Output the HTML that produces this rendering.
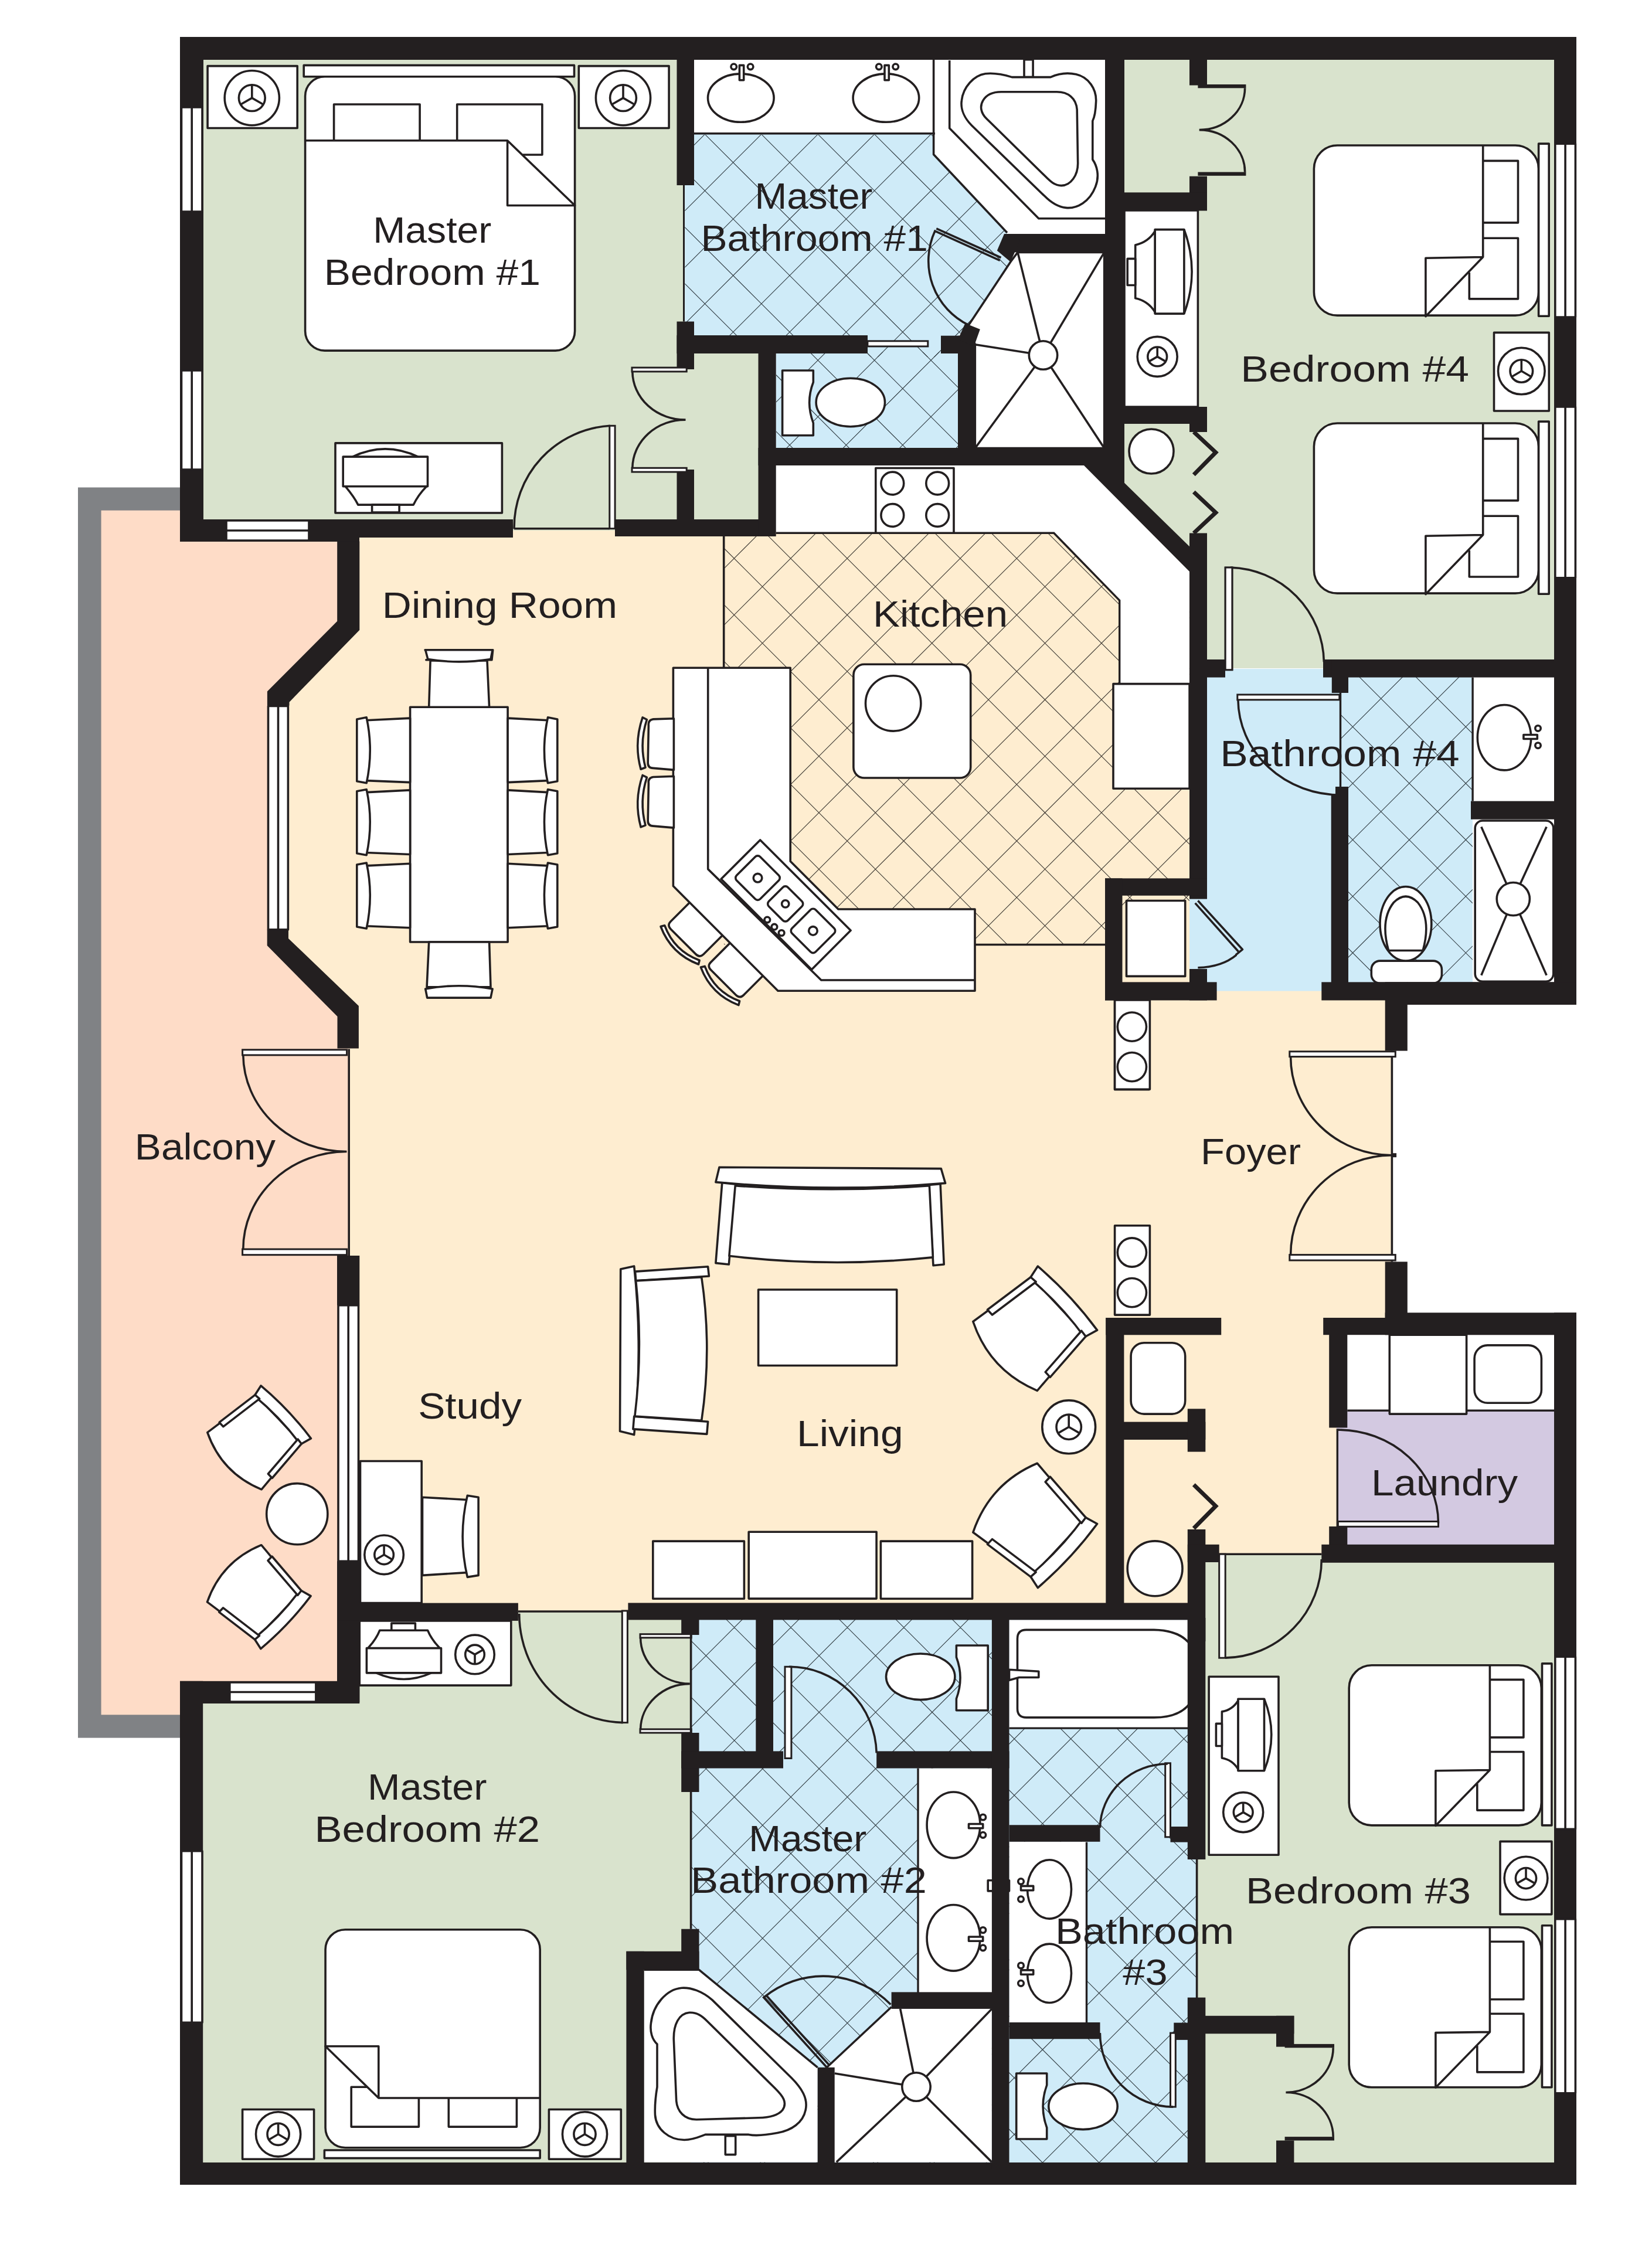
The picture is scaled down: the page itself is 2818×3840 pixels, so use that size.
<!DOCTYPE html>
<html><head><meta charset="utf-8"><title>Floor plan</title><style>
html,body{margin:0;padding:0;background:#fff}
svg{display:block}
.w{fill:#231f20}
.f{fill:#fff;stroke:#231f20;stroke-width:3.6;stroke-linejoin:round}
.l{fill:none;stroke:#231f20;stroke-width:3.6;stroke-linecap:butt;stroke-linejoin:round}
.d{fill:none;stroke:#231f20;stroke-width:3.6}
.dw{fill:#fff;stroke:#231f20;stroke-width:3}
.h{fill:none;stroke:#323d43;stroke-width:1.1}
.hk{fill:none;stroke:#3d3832;stroke-width:1.1}
.g{fill:#d9e3cd}.b{fill:#cfebf8}.c{fill:#feedd0}.p{fill:#fedcc7}.u{fill:#d3c9e1}.gy{fill:#808285}.wh{fill:#fff}
text{font-family:"Liberation Sans",sans-serif;fill:#231f20}
.l2{fill:none;stroke:#231f20;stroke-width:2}
.l1{fill:none;stroke:#231f20;stroke-width:3.4}
.lt{fill:none;stroke:#231f20;stroke-width:7;stroke-linejoin:miter}
</style></head><body>
<svg width="2818" height="3840" viewBox="0 0 2818 3840">
<defs><clipPath id="c1"><polygon points="1168.2,227.7 1592.5,227.7 1592.5,263.4 1718.4,397.1 1700.8,427.4 1723.8,446.8 1652.4,554.5 1634.3,572.7 1634.3,584.8 1605.2,584.8 1605.2,609 1479.9,609 1479.9,584.8 1168.2,584.8"/></clipPath><clipPath id="c2"><polygon points="1323.7,600.5 1634.3,600.5 1634.3,764 1323.7,764"/></clipPath><clipPath id="c3"><polygon points="1234.7,911 2029,911 2029,1611.5 1234.7,1611.5"/></clipPath><clipPath id="c4"><polygon points="2286.5,1155 2512,1155 2512,1676 2286.5,1676"/></clipPath><clipPath id="c5"><polygon points="1179,2750 1692,2750 1692,3700 1179,3700"/></clipPath><clipPath id="c6"><polygon points="1721,2948 2041.6,2948 2041.6,3700 1721,3700"/></clipPath></defs>
<g id="floor">
<rect class="g" x="347" y="102" width="947" height="822"/>
<polygon class="b" points="1168.2,227.7 1592.5,227.7 1592.5,263.4 1718.4,397.1 1700.8,427.4 1723.8,446.8 1652.4,554.5 1634.3,572.7 1634.3,584.8 1168.2,584.8"/>
<rect class="b" x="1476.9" y="566.6" width="133.2" height="42.4"/>
<rect class="b" x="1323.7" y="600.5" width="310.5" height="163.4"/>
<rect class="g" x="1917" y="102" width="735" height="1038"/>
<rect class="gy" x="133" y="831.5" width="187" height="2133.1"/>
<polygon class="p" points="172.6,870.8 320,870.8 320,915 600,915 600,2925.3 172.6,2925.3"/>
<polygon class="c" points="594,905 1979,905 2029,953 2029,1690 2374.4,1690 2374.4,2260 2290,2260 2290,2655 2030,2655 2030,2750 594,2750 594,1725 474,1600 474,1185 594,1055"/>
<rect class="b" x="2059" y="1141" width="461" height="549.6"/>
<rect class="b" x="2029" y="1527" width="31" height="149"/>
<rect class="c" x="1914.5" y="1527.8" width="114.5" height="147.6"/>
<rect class="u" x="2280" y="2406.3" width="372" height="233.7"/>
<rect class="u" x="2280" y="2435" width="20" height="175"/>
<polygon class="g" points="330,2890 600,2890 600,2750 1179,2750 1179,3700 330,3700"/>
<rect class="b" x="1179" y="2750" width="862.6" height="950"/>
<rect class="g" x="2041.6" y="2651" width="618.4" height="1049"/>
<rect class="g" x="2060" y="2651" width="200" height="19"/>
<rect class="g" x="883.9" y="2749" width="187.6" height="17"/>
</g>
<g id="hatch">
<path class="h" clip-path="url(#c1)" d="M1168.2 -383.6L1723.8 172M1168.2 -287.2L1723.8 268.4M1168.2 -190.8L1723.8 364.8M1168.2 -94.4L1723.8 461.2M1168.2 2L1723.8 557.6M1168.2 98.4L1723.8 654M1168.2 194.8L1723.8 750.4M1168.2 291.2L1723.8 846.8M1168.2 387.6L1723.8 943.2M1168.2 484L1723.8 1039.6M1168.2 580.4L1723.8 1136M1168.2 676.8L1723.8 1232.4M1168.2 166.8L1723.8 -388.8M1168.2 263.2L1723.8 -292.4M1168.2 359.6L1723.8 -196M1168.2 456L1723.8 -99.6M1168.2 552.4L1723.8 -3.2M1168.2 648.8L1723.8 93.2M1168.2 745.2L1723.8 189.6M1168.2 841.6L1723.8 286M1168.2 938L1723.8 382.4M1168.2 1034.4L1723.8 478.8M1168.2 1130.8L1723.8 575.2M1168.2 1227.2L1723.8 671.6"/>
<path class="h" clip-path="url(#c2)" d="M1323.7 253.9L1634.3 564.5M1323.7 350.3L1634.3 660.9M1323.7 446.7L1634.3 757.3M1323.7 543.1L1634.3 853.7M1323.7 639.5L1634.3 950.1M1323.7 735.9L1634.3 1046.5M1323.7 832.3L1634.3 1142.9M1323.7 589.7L1634.3 279.1M1323.7 686.1L1634.3 375.5M1323.7 782.5L1634.3 471.9M1323.7 878.9L1634.3 568.3M1323.7 975.3L1634.3 664.7M1323.7 1071.7L1634.3 761.1M1323.7 1168.1L1634.3 857.5"/>
<path class="hk" clip-path="url(#c3)" d="M1234.7 67.4L2029 861.7M1234.7 163.8L2029 958.1M1234.7 260.2L2029 1054.5M1234.7 356.6L2029 1150.9M1234.7 453L2029 1247.3M1234.7 549.4L2029 1343.7M1234.7 645.8L2029 1440.1M1234.7 742.2L2029 1536.5M1234.7 838.6L2029 1632.9M1234.7 935L2029 1729.3M1234.7 1031.4L2029 1825.7M1234.7 1127.8L2029 1922.1M1234.7 1224.2L2029 2018.5M1234.7 1320.6L2029 2114.9M1234.7 1417L2029 2211.3M1234.7 1513.4L2029 2307.7M1234.7 1609.8L2029 2404.1M1234.7 1706.2L2029 2500.5M1234.7 873.8L2029 79.5M1234.7 970.2L2029 175.9M1234.7 1066.6L2029 272.3M1234.7 1163L2029 368.7M1234.7 1259.4L2029 465.1M1234.7 1355.8L2029 561.5M1234.7 1452.2L2029 657.9M1234.7 1548.6L2029 754.3M1234.7 1645L2029 850.7M1234.7 1741.4L2029 947.1M1234.7 1837.8L2029 1043.5M1234.7 1934.2L2029 1139.9M1234.7 2030.6L2029 1236.3M1234.7 2127L2029 1332.7M1234.7 2223.4L2029 1429.1M1234.7 2319.8L2029 1525.5M1234.7 2416.2L2029 1621.9"/>
<path class="h" clip-path="url(#c4)" d="M2286.5 833.3L2512 1058.8M2286.5 929.7L2512 1155.2M2286.5 1026.1L2512 1251.6M2286.5 1122.5L2512 1348M2286.5 1218.9L2512 1444.4M2286.5 1315.3L2512 1540.8M2286.5 1411.7L2512 1637.2M2286.5 1508.1L2512 1733.6M2286.5 1604.5L2512 1830M2286.5 1700.9L2512 1926.4M2286.5 1068.1L2512 842.6M2286.5 1164.5L2512 939M2286.5 1260.9L2512 1035.4M2286.5 1357.3L2512 1131.8M2286.5 1453.7L2512 1228.2M2286.5 1550.1L2512 1324.6M2286.5 1646.5L2512 1421M2286.5 1742.9L2512 1517.4M2286.5 1839.3L2512 1613.8M2286.5 1935.7L2512 1710.2"/>
<path class="h" clip-path="url(#c5)" d="M1179 2220.7L1692 2733.7M1179 2317.1L1692 2830.1M1179 2413.5L1692 2926.5M1179 2509.9L1692 3022.9M1179 2606.3L1692 3119.3M1179 2702.7L1692 3215.7M1179 2799.1L1692 3312.1M1179 2895.5L1692 3408.5M1179 2991.9L1692 3504.9M1179 3088.3L1692 3601.3M1179 3184.7L1692 3697.7M1179 3281.1L1692 3794.1M1179 3377.5L1692 3890.5M1179 3473.9L1692 3986.9M1179 3570.3L1692 4083.3M1179 3666.7L1692 4179.7M1179 3763.1L1692 4276.1M1179 2657.1L1692 2144.1M1179 2753.5L1692 2240.5M1179 2849.9L1692 2336.9M1179 2946.3L1692 2433.3M1179 3042.7L1692 2529.7M1179 3139.1L1692 2626.1M1179 3235.5L1692 2722.5M1179 3331.9L1692 2818.9M1179 3428.3L1692 2915.3M1179 3524.7L1692 3011.7M1179 3621.1L1692 3108.1M1179 3717.5L1692 3204.5M1179 3813.9L1692 3300.9M1179 3910.3L1692 3397.3M1179 4006.7L1692 3493.7M1179 4103.1L1692 3590.1M1179 4199.5L1692 3686.5M1179 4295.9L1692 3782.9"/>
<path class="h" clip-path="url(#c6)" d="M1721 2571.5L2041.6 2892.1M1721 2667.9L2041.6 2988.5M1721 2764.3L2041.6 3084.9M1721 2860.7L2041.6 3181.3M1721 2957.1L2041.6 3277.7M1721 3053.5L2041.6 3374.1M1721 3149.9L2041.6 3470.5M1721 3246.3L2041.6 3566.9M1721 3342.7L2041.6 3663.3M1721 3439.1L2041.6 3759.7M1721 3535.5L2041.6 3856.1M1721 3631.9L2041.6 3952.5M1721 3728.3L2041.6 4048.9M1721 2879.1L2041.6 2558.5M1721 2975.5L2041.6 2654.9M1721 3071.9L2041.6 2751.3M1721 3168.3L2041.6 2847.7M1721 3264.7L2041.6 2944.1M1721 3361.1L2041.6 3040.5M1721 3457.5L2041.6 3136.9M1721 3553.9L2041.6 3233.3M1721 3650.3L2041.6 3329.7M1721 3746.7L2041.6 3426.1M1721 3843.1L2041.6 3522.5M1721 3939.5L2041.6 3618.9M1721 4035.9L2041.6 3715.3"/>
</g>
<g id="white">
<rect class="wh" x="1184" y="102" width="411" height="125.6"/>
<polygon class="wh" points="1592.6,102 1592.6,263.4 1720,399 1885,399 1885,102"/>
<polygon class="wh" points="1323.7,794.2 1849.2,794.2 2028.9,974.6 2028.9,1166.5 1909.7,1166.5 1909.7,1024.3 1797.7,909.2 1323.7,909.2"/>
<rect class="wh" x="2512" y="1155" width="140" height="525"/>
<rect class="wh" x="2298" y="2277" width="354" height="129.3"/>
<rect class="wh" x="1721.5" y="2763.4" width="304.5" height="184.6"/>
<rect class="wh" x="1566" y="3016.5" width="126" height="383.5"/>
<rect class="wh" x="1721.5" y="3141.8" width="132" height="310.2"/>
<polygon class="wh" points="1098.7,3360.3 1192.5,3360.3 1394.7,3526.8 1394.7,3688.4 1098.7,3688.4"/>
<polygon class="wh" points="1410.4,3526.8 1520.6,3423.8 1691.9,3423.8 1691.9,3688.4 1410.4,3688.4"/>
</g>
<g id="fix">
<g transform="translate(1253.1 1656.9) rotate(45) scale(0.6)"><path class="f" vector-effect="non-scaling-stroke" d="M-66 -75 L-66 30 Q-66 45 -50 45 L50 45 Q66 45 66 30 L66 -75 Z"/><path class="f" vector-effect="non-scaling-stroke" d="M-76 60 Q0 94 76 60 L70 50 Q0 82 -70 50 Z"/></g>
<g transform="translate(1184.7 1587.3) rotate(45) scale(0.6)"><path class="f" vector-effect="non-scaling-stroke" d="M-66 -75 L-66 30 Q-66 45 -50 45 L50 45 Q66 45 66 30 L66 -75 Z"/><path class="f" vector-effect="non-scaling-stroke" d="M-76 60 Q0 94 76 60 L70 50 Q0 82 -70 50 Z"/></g>
<rect class="f" x="354.1" y="112.6" width="153.1" height="105.9"/>
<circle class="f" cx="429.8" cy="167.1" r="46.6"/>
<circle class="f" cx="429.8" cy="167.1" r="22.4"/>
<polyline class="l" points="429.8,167.1 429.8,144.7"/>
<polyline class="l" points="429.8,167.1 449.2,178.3"/>
<polyline class="l" points="429.8,167.1 410.4,178.3"/>
<rect class="f" x="987.3" y="112.6" width="153.8" height="105.9"/>
<circle class="f" cx="1063" cy="167.1" r="46.6"/>
<circle class="f" cx="1063" cy="167.1" r="22.4"/>
<polyline class="l" points="1063,167.1 1063,144.7"/>
<polyline class="l" points="1063,167.1 1082.4,178.3"/>
<polyline class="l" points="1063,167.1 1043.6,178.3"/>
<rect class="f" x="518.2" y="111.4" width="461.3" height="19.4"/>
<rect class="f" x="520.6" y="130.8" width="460" height="467.3" rx="33.3"/>
<polyline class="l" points="569.6,239.8 569.6,178 716.1,178 716.1,239.8"/>
<polyline class="l" points="779.7,239.8 779.7,178 924.9,178 924.9,264 891.6,264"/>
<polyline class="l" points="520.6,239.8 865.6,239.8 865.6,350.5 980.6,350.5 865.6,239.8"/>
<rect class="f" x="572" y="755.9" width="284.4" height="119.1"/>
<path class="l" d="M601.6 779.1Q656.9 752.6 713 779.1"/>
<rect class="f" x="585.2" y="779.1" width="144.3" height="50.6"/>
<path class="f" d="M589.1 829.7Q604.6 848.5 610.8 861.1L705.3 861.1Q713 844.6 727.6 829.7Z"/>
<rect class="f" x="634.6" y="861.1" width="46.5" height="13"/>
<ellipse class="f" cx="1263.8" cy="167.1" rx="56.3" ry="41.2"/>
<circle class="f" cx="1251.7" cy="113.8" r="4.8"/>
<circle class="f" cx="1280.1" cy="113.8" r="4.8"/>
<rect class="f" x="1261.4" y="111.4" width="7.3" height="25.4"/>
<ellipse class="f" cx="1511.4" cy="167.1" rx="56.3" ry="41.2"/>
<circle class="f" cx="1499.3" cy="113.8" r="4.8"/>
<circle class="f" cx="1527.7" cy="113.8" r="4.8"/>
<rect class="f" x="1509" y="111.4" width="7.3" height="25.4"/>
<polyline class="l" points="1183.3,227.7 1594.9,227.7"/>
<polyline class="l" points="1592.6,102 1592.6,263.4 1718,397"/>
<polyline class="l" points="1619.7,103 1619.7,218.8 1771.8,372.8 1885,372.8"/>
<rect class="f" x="1747" y="101.6" width="15.1" height="30"/>
<path class="f" d="M1726.2 131.6L1792.1 131.6C1802.8 126.8 1818.3 122.9 1835.7 126.8C1857 131.6 1870.6 152 1869.6 173.3C1869 190.7 1866.7 200.4 1863.8 206.2L1863.8 272.1C1870.6 281.8 1876.4 299.2 1868.6 318.6C1858.9 343.8 1837.6 356.3 1818.3 354.4C1802.8 353.1 1791.1 343.8 1781.5 334.1L1657.5 214C1645.9 202.3 1638.1 186.9 1640.4 171.4C1643 148.1 1661.4 128.7 1680.7 125.8C1696.2 123.9 1713.7 127.8 1726.2 131.6Z"/>
<path class="f" d="M1707.8 156.8L1802.8 156.8C1822.1 156.8 1835.7 167.5 1837.2 186.9L1838.6 276C1839.6 299.2 1826 316.6 1810.5 316.6C1798.9 316.6 1791.1 308.9 1783.4 301.1L1682.7 202.3C1673 192.7 1671 181 1676.9 171.4C1682.7 161.7 1694.3 156.8 1707.8 156.8Z"/>
<polygon class="f" points="1723.8,446.8 1736,430.4 1883.7,430.4 1883.7,764.6 1663.3,764.6 1663.3,587.8 1652.4,554.5"/>
<polyline class="l" points="1779.5,606 1736,430.4"/>
<polyline class="l" points="1779.5,606 1883.7,430.4"/>
<polyline class="l" points="1779.5,606 1663.3,587.8"/>
<polyline class="l" points="1779.5,606 1663.3,764.6"/>
<polyline class="l" points="1779.5,606 1883.7,764.6"/>
<circle class="f" cx="1779.5" cy="606" r="24.2"/>
<path class="f" d="M1334.6 632L1387.3 632L1387.3 652Q1374 686.5 1387.3 721.6L1387.3 742.8L1334.6 742.8Z"/>
<ellipse class="f" cx="1450.8" cy="686.5" rx="58.7" ry="41.2"/>
<rect class="f" x="1918" y="359" width="125.4" height="335"/>
<path class="f" d="M1970.1 391.6L2019.9 391.6L2019.9 535.1L1970.1 535.1Z"/>
<path class="l" d="M2019.9 391.6Q2046.3 463.1 2019.9 535.1"/>
<path class="f" d="M1970.1 394.5Q1958.4 413.3 1936.7 417.9L1936.7 508.8Q1958.4 513.5 1970.1 532.2Z"/>
<rect class="f" x="1923.2" y="441.4" width="13.5" height="45.1"/>
<circle class="f" cx="1974.2" cy="608.4" r="34"/>
<circle class="f" cx="1974.2" cy="608.4" r="16.4"/>
<polyline class="l" points="1974.2,608.4 1974.2,592"/>
<polyline class="l" points="1974.2,608.4 1988.4,616.6"/>
<polyline class="l" points="1974.2,608.4 1960,616.6"/>
<circle class="f" cx="1964" cy="770" r="38"/>
<rect class="f" x="2241.4" y="248" width="383.2" height="290.1" rx="39.8"/>
<rect class="f" x="2624.6" y="245.1" width="17.6" height="294.2"/>
<polyline class="l" points="2529.7,274.4 2589.5,274.4 2589.5,379.9 2529.7,379.9"/>
<polyline class="l" points="2529.7,406.2 2589.5,406.2 2589.5,509.9 2506.3,509.9 2506.3,464.8"/>
<polyline class="l" points="2529.7,248 2529.7,438.5 2431.9,440.2 2431.9,539.8 2529.7,438.5"/>
<rect class="f" x="2241.4" y="722" width="383.2" height="290.1" rx="39.8"/>
<rect class="f" x="2624.6" y="719.1" width="17.6" height="294.2"/>
<polyline class="l" points="2529.7,748.4 2589.5,748.4 2589.5,853.9 2529.7,853.9"/>
<polyline class="l" points="2529.7,880.2 2589.5,880.2 2589.5,984 2506.3,984 2506.3,938.8"/>
<polyline class="l" points="2529.7,722 2529.7,912.5 2431.9,914.2 2431.9,1013.8 2529.7,912.5"/>
<rect class="f" x="2548.5" y="567.4" width="93.8" height="133.6"/>
<circle class="f" cx="2595.3" cy="633" r="39.8"/>
<circle class="f" cx="2595.3" cy="633" r="19.3"/>
<polyline class="l" points="2595.3,633 2595.3,613.7"/>
<polyline class="l" points="2595.3,633 2612.1,642.7"/>
<polyline class="l" points="2595.3,633 2578.6,642.7"/>
<polyline class="l" points="1234.7,911 1234.7,1139"/>
<polyline class="l1" points="1663,1611.5 1885,1611.5"/>
<rect class="f" x="1921.5" y="1536.5" width="100.2" height="128.9"/>
<polyline class="l1" points="1323.7,909.2 1797.7,909.2 1909.7,1024.3 1909.7,1166.5"/>
<rect class="f" x="1493.8" y="798.5" width="133.2" height="110.8"/>
<circle class="f" cx="1522.3" cy="824.5" r="19.4"/>
<circle class="f" cx="1599.2" cy="824.5" r="19.4"/>
<circle class="f" cx="1522.3" cy="879" r="19.4"/>
<circle class="f" cx="1599.2" cy="879" r="19.4"/>
<rect class="f" x="1899" y="1166.6" width="130.1" height="178.6"/>
<rect class="f" x="1455.9" y="1133.3" width="199.8" height="193.7" rx="18.2"/>
<circle class="f" cx="1523.7" cy="1199.9" r="47.2"/>
<polygon class="f" points="1148.4,1139.3 1348.2,1139.3 1348.2,1469.2 1429.9,1551 1663,1551 1663,1690.2 1327,1690.2 1148.4,1511.6"/>
<polyline class="l" points="1207.7,1139.3 1207.7,1482.6 1400.8,1672 1663,1672"/>
<polygon class="f" points="1296.7,1432.9 1451.1,1587.3 1384.5,1653.9 1230.1,1499.5"/>
<rect class="f" x="1264" y="1469.2" width="56.9" height="56.9" rx="6.1" transform="rotate(45 1292.5 1497.7)"/>
<circle class="f" cx="1292.5" cy="1497.7" r="7.3"/>
<rect class="f" x="1316.7" y="1518.9" width="46" height="46" rx="6.1" transform="rotate(45 1339.7 1541.9)"/>
<circle class="f" cx="1339.7" cy="1541.9" r="6.1"/>
<rect class="f" x="1358.5" y="1559.4" width="56.9" height="56.9" rx="6.1" transform="rotate(45 1386.9 1587.9)"/>
<circle class="f" cx="1386.9" cy="1587.9" r="7.3"/>
<circle class="f" cx="1308.8" cy="1569.1" r="4.8"/>
<circle class="f" cx="1320.9" cy="1581.2" r="4.8"/>
<circle class="f" cx="1333.1" cy="1591.5" r="4.8"/>
<path class="f" d="M1149.4 1225.7L1114.3 1226.9Q1105.2 1228.1 1106.4 1237.8L1105.2 1301.3Q1105.2 1310.4 1114.3 1310.4L1149.4 1313.4Z"/>
<path class="f" d="M1096.1 1223.8Q1081 1268 1093.1 1312.2L1101 1309.2Q1090.1 1268 1103.4 1227.5Z"/>
<path class="f" d="M1149.4 1324.3L1114.3 1325.5Q1105.2 1326.8 1106.4 1336.4L1105.2 1400Q1105.2 1409.1 1114.3 1409.1L1149.4 1412.1Z"/>
<path class="f" d="M1096.1 1322.5Q1081 1366.7 1093.1 1410.9L1101 1407.9Q1090.1 1366.7 1103.4 1326.2Z"/>
<rect class="f" x="699.6" y="1206.3" width="166.5" height="400.7"/>
<path class="f" d="M625.2 1228.7L699.6 1225.1L699.6 1334.6L625.2 1331.6Z"/>
<path class="f" d="M608.8 1226.9L625.2 1223.8Q637.3 1279.5 625.2 1335.8L608.8 1332.8Z"/>
<path class="f" d="M934.5 1228.7L866.1 1225.1L866.1 1334.6L934.5 1331.6Z"/>
<path class="f" d="M950.8 1226.9L934.5 1223.8Q922.4 1279.5 934.5 1335.8L950.8 1332.8Z"/>
<path class="f" d="M625.2 1351.6L699.6 1347.9L699.6 1457.5L625.2 1454.5Z"/>
<path class="f" d="M608.8 1349.8L625.2 1346.7Q637.3 1402.4 625.2 1458.7L608.8 1455.7Z"/>
<path class="f" d="M934.5 1351.6L866.1 1347.9L866.1 1457.5L934.5 1454.5Z"/>
<path class="f" d="M950.8 1349.8L934.5 1346.7Q922.4 1402.4 934.5 1458.7L950.8 1455.7Z"/>
<path class="f" d="M625.2 1476.9L699.6 1473.2L699.6 1582.8L625.2 1579.8Z"/>
<path class="f" d="M608.8 1475.1L625.2 1472Q637.3 1527.7 625.2 1584L608.8 1581Z"/>
<path class="f" d="M934.5 1476.9L866.1 1473.2L866.1 1582.8L934.5 1579.8Z"/>
<path class="f" d="M950.8 1475.1L934.5 1472Q922.4 1527.7 934.5 1584L950.8 1581Z"/>
<path class="f" d="M731.7 1206.3L834.6 1206.3L831 1127L734.1 1127Z"/>
<path class="f" d="M726.9 1125.8L838.9 1125.8L840.7 1108.8L725.1 1108.8Q782.6 1116.7 726.9 1125.8Z"/>
<path class="f" d="M729.9 1124.6Q782.6 1133.1 837 1124.6L840.1 1108.8L725.7 1108.8Z"/>
<path class="f" d="M731.7 1607L834.6 1607L837 1683.9L728.1 1683.9Z"/>
<path class="f" d="M725.7 1686.9Q782.6 1676.6 840.1 1686.9L837 1702.1L728.7 1702.1Z"/>
<polyline class="l1" points="2286.5,1182 2286.5,1354.9"/>
<polyline class="l1" points="2512.1,1155.7 2512.1,1366.6"/>
<ellipse class="f" cx="2566" cy="1258.2" rx="45.7" ry="55.7"/>
<circle class="f" cx="2623.5" cy="1242.4" r="4.7"/>
<circle class="f" cx="2623.5" cy="1271.7" r="4.7"/>
<rect class="f" x="2598.9" y="1253.5" width="23.4" height="7"/>
<rect class="f" x="2516.2" y="1400" width="133.6" height="274.2" rx="12.9"/>
<polyline class="l" points="2581.3,1533.6 2526.8,1410.6"/>
<polyline class="l" points="2581.3,1533.6 2638.1,1410.6"/>
<polyline class="l" points="2581.3,1533.6 2526.8,1663.7"/>
<polyline class="l" points="2581.3,1533.6 2638.1,1663.7"/>
<circle class="f" cx="2581.3" cy="1533.6" r="28.1"/>
<rect class="f" x="2339.3" y="1639.1" width="120.1" height="38.1" rx="14.6"/>
<ellipse class="f" cx="2397.9" cy="1575.8" rx="43.9" ry="63.3"/>
<path class="f" d="M2368.6 1621.5Q2353.9 1568.8 2377.4 1539.5Q2397.9 1519 2418.4 1539.5Q2441.8 1568.8 2427.2 1621.5Z"/>
<rect class="f" x="1901.6" y="1706.5" width="58.6" height="152.3"/>
<circle class="f" cx="1930.9" cy="1751.6" r="24.6"/>
<circle class="f" cx="1930.9" cy="1819" r="24.6"/>
<rect class="f" x="1901.6" y="1705.9" width="59.8" height="152.3"/>
<circle class="f" cx="1930.9" cy="1751.6" r="24.6"/>
<circle class="f" cx="1930.9" cy="1820.1" r="24.6"/>
<rect class="f" x="1901.6" y="2090.8" width="59.8" height="152.3"/>
<circle class="f" cx="1930.9" cy="2136.5" r="24.6"/>
<circle class="f" cx="1930.9" cy="2205.1" r="24.6"/>
<rect class="f" x="1929.1" y="2290.8" width="92.6" height="121.3" rx="22.3"/>
<circle class="f" cx="1970.1" cy="2675.8" r="46.9"/>
<polyline class="l1" points="2298.3,2406.3 2651,2406.3"/>
<rect class="f" x="2370.3" y="2277.3" width="131.3" height="134.8"/>
<rect class="f" x="2515.1" y="2294.9" width="114.3" height="98.4" rx="22.3"/>
<path class="f" d="M1227 1991.2L1605.3 1993.6L1612.6 2018.4Q1417.7 2034.7 1220.9 2016.6Z"/>
<path class="f" d="M1231.8 2017.8L1255.4 2020.2L1243.3 2157L1220.9 2154.6Z"/>
<path class="f" d="M1584.1 2021.4L1604.1 2019.6L1610.2 2157L1592 2158.8Z"/>
<path class="f" d="M1254.2 2022.6Q1417.7 2034.7 1585.4 2022.6L1591.4 2144.9Q1417.7 2163.1 1243.9 2142.5Z"/>
<path class="f" d="M1058.7 2164.9L1081.7 2160Q1096.9 2301.1 1081.7 2447.6L1057.5 2441.5Z"/>
<path class="f" d="M1083.5 2169.1L1207.6 2160.7L1209.4 2177L1084.7 2184.9Z"/>
<path class="f" d="M1081.7 2416.1L1207.6 2425.2L1205.8 2446.4L1079.9 2437.9Z"/>
<path class="f" d="M1084.7 2184.9L1196.7 2178.8Q1214.9 2301.1 1196.7 2423.4L1082.9 2416.1Q1096.9 2301.1 1084.7 2184.9Z"/>
<rect class="f" x="1293.6" y="2200" width="236.1" height="129.5"/>
<g transform="translate(1768.2 2263.6) rotate(47.1) scale(0.6)"><path class="f" vector-effect="non-scaling-stroke" d="M-110 -86 L-134 122 Q0 182 134 122 L110 -86 Z"/><path class="f" vector-effect="non-scaling-stroke" d="M-124 -120 Q0 -134 124 -120 L114 -80 Q0 -94 -114 -80 Z"/><path class="f" vector-effect="non-scaling-stroke" d="M-115 -84 L-95 -86 L-111 69 L-131 69 Z"/><path class="f" vector-effect="non-scaling-stroke" d="M115 -84 L95 -86 L111 69 L131 69 Z"/></g>
<g transform="translate(1768.2 2605) rotate(132.9) scale(0.6)"><path class="f" vector-effect="non-scaling-stroke" d="M-110 -86 L-134 122 Q0 182 134 122 L110 -86 Z"/><path class="f" vector-effect="non-scaling-stroke" d="M-124 -120 Q0 -134 124 -120 L114 -80 Q0 -94 -114 -80 Z"/><path class="f" vector-effect="non-scaling-stroke" d="M-115 -84 L-95 -86 L-111 69 L-131 69 Z"/><path class="f" vector-effect="non-scaling-stroke" d="M115 -84 L95 -86 L111 69 L131 69 Z"/></g>
<circle class="f" cx="1823.2" cy="2434.3" r="45.4"/>
<circle class="f" cx="1823.2" cy="2434.3" r="21.2"/>
<polyline class="l" points="1823.2,2434.3 1823.2,2413.1"/>
<polyline class="l" points="1823.2,2434.3 1841.6,2444.9"/>
<polyline class="l" points="1823.2,2434.3 1804.9,2444.9"/>
<g transform="translate(444.2 2450.2) rotate(46.5) scale(0.5)"><path class="f" vector-effect="non-scaling-stroke" d="M-110 -86 L-134 122 Q0 182 134 122 L110 -86 Z"/><path class="f" vector-effect="non-scaling-stroke" d="M-124 -120 Q0 -134 124 -120 L114 -80 Q0 -94 -114 -80 Z"/><path class="f" vector-effect="non-scaling-stroke" d="M-115 -84 L-95 -86 L-111 69 L-131 69 Z"/><path class="f" vector-effect="non-scaling-stroke" d="M115 -84 L95 -86 L111 69 L131 69 Z"/></g>
<g transform="translate(443.9 2726.3) rotate(133.5) scale(0.5)"><path class="f" vector-effect="non-scaling-stroke" d="M-110 -86 L-134 122 Q0 182 134 122 L110 -86 Z"/><path class="f" vector-effect="non-scaling-stroke" d="M-124 -120 Q0 -134 124 -120 L114 -80 Q0 -94 -114 -80 Z"/><path class="f" vector-effect="non-scaling-stroke" d="M-115 -84 L-95 -86 L-111 69 L-131 69 Z"/><path class="f" vector-effect="non-scaling-stroke" d="M115 -84 L95 -86 L111 69 L131 69 Z"/></g>
<circle class="f" cx="506.8" cy="2582.7" r="52.1"/>
<rect class="f" x="614.5" y="2492.5" width="104.7" height="242.1"/>
<circle class="f" cx="655.1" cy="2652.3" r="33.3"/>
<circle class="f" cx="655.1" cy="2652.3" r="16.3"/>
<polyline class="l" points="655.1,2652.3 655.1,2636"/>
<polyline class="l" points="655.1,2652.3 669.2,2660.5"/>
<polyline class="l" points="655.1,2652.3 640.9,2660.5"/>
<path class="f" d="M720.5 2554.2L796.1 2558.5L796.1 2682.6L720.5 2687.4Z"/>
<path class="f" d="M797.3 2551.2L816.1 2554.2L816.1 2687.4L797.3 2690.4Q781 2620.8 797.3 2551.2Z"/>
<rect class="f" x="1113.8" y="2629.1" width="155.6" height="98.1"/>
<rect class="f" x="1277.2" y="2613.3" width="217.9" height="113.8"/>
<rect class="f" x="1502.4" y="2629.1" width="156.2" height="98.1"/>
<rect class="f" x="613.3" y="2764.9" width="258.5" height="110.2"/>
<path class="f" d="M625.4 2811.5L752.5 2811.5L752.5 2853.9L625.4 2853.9Z"/>
<path class="l" d="M641.8 2853.9Q689 2875.1 735.6 2853.9"/>
<path class="f" d="M627.8 2811.5Q641.8 2796.4 647.8 2781.2L729.5 2781.2Q735.6 2796.4 750.1 2811.5Z"/>
<rect class="f" x="667.8" y="2769.1" width="40.6" height="12.1"/>
<circle class="f" cx="810" cy="2822.4" r="33.3"/>
<circle class="f" cx="810" cy="2822.4" r="16.3"/>
<polyline class="l" points="810,2822.4 824.2,2814.2"/>
<polyline class="l" points="810,2822.4 810,2838.7"/>
<polyline class="l" points="810,2822.4 795.9,2814.2"/>
<rect class="f" x="555.1" y="3291.7" width="366.1" height="372" rx="33.9"/>
<rect class="f" x="553.4" y="3668" width="367.8" height="13.6"/>
<polyline class="l" points="599.2,3579 599.2,3628.1 714.4,3628.1 714.4,3579"/>
<polyline class="l" points="765.3,3579 765.3,3628.1 881.4,3628.1 881.4,3579"/>
<polyline class="l" points="921.2,3579 645.8,3579 645.8,3490.8 555.1,3490.8 645.8,3579"/>
<polyline class="l" points="599.2,3579 599.2,3560.3 627.1,3560.3"/>
<rect class="f" x="413.6" y="3598.5" width="122" height="84.7"/>
<circle class="f" cx="474.6" cy="3640.8" r="38.1"/>
<circle class="f" cx="474.6" cy="3640.8" r="18.6"/>
<polyline class="l" points="474.6,3640.8 474.6,3622.2"/>
<polyline class="l" points="474.6,3640.8 490.7,3650.2"/>
<polyline class="l" points="474.6,3640.8 458.4,3650.2"/>
<rect class="f" x="936.4" y="3598.5" width="122.9" height="84.7"/>
<circle class="f" cx="997.5" cy="3640.8" r="38.1"/>
<circle class="f" cx="997.5" cy="3640.8" r="18.6"/>
<polyline class="l" points="997.5,3640.8 997.5,3622.2"/>
<polyline class="l" points="997.5,3640.8 1013.6,3650.2"/>
<polyline class="l" points="997.5,3640.8 981.3,3650.2"/>
<ellipse class="f" cx="1570.2" cy="2860.3" rx="58.7" ry="39.3"/>
<path class="f" d="M1685.2 2807L1631.4 2807L1631.4 2827Q1644.7 2862.1 1631.4 2897.8L1631.4 2917.8L1685.2 2917.8Z"/>
<ellipse class="f" cx="1626.5" cy="3113.3" rx="45.4" ry="56.3"/>
<circle class="f" cx="1676.8" cy="3100" r="4.8"/>
<circle class="f" cx="1676.8" cy="3130.3" r="4.8"/>
<rect class="f" x="1652.5" y="3111.5" width="24.2" height="7.3"/>
<ellipse class="f" cx="1626.5" cy="3305.8" rx="45.4" ry="56.3"/>
<circle class="f" cx="1676.8" cy="3292.5" r="4.8"/>
<circle class="f" cx="1676.8" cy="3322.8" r="4.8"/>
<rect class="f" x="1652.5" y="3304" width="24.2" height="7.3"/>
<polyline class="l1" points="1566,3016.5 1566,3423.2"/>
<ellipse class="f" cx="1790" cy="3222.9" rx="37.5" ry="50.2"/>
<circle class="f" cx="1741.5" cy="3209.6" r="4.8"/>
<circle class="f" cx="1741.5" cy="3239.8" r="4.8"/>
<rect class="f" x="1741.5" y="3217.4" width="21.2" height="7.3"/>
<ellipse class="f" cx="1790" cy="3366.3" rx="37.5" ry="50.2"/>
<circle class="f" cx="1741.5" cy="3353" r="4.8"/>
<circle class="f" cx="1741.5" cy="3383.3" r="4.8"/>
<rect class="f" x="1741.5" y="3360.9" width="21.2" height="7.3"/>
<polyline class="l1" points="1853.5,3142.4 1853.5,3449.9"/>
<rect class="f" x="1685.2" y="3207.7" width="36.3" height="18.2"/>
<polyline class="l1" points="1721.5,2948.1 2029.1,2948.1"/>
<path class="f" d="M1750.6 2780.4L1968.5 2780.4Q2044.2 2781.6 2044.2 2854.2Q2044.2 2929.9 1968.5 2929.9L1750.6 2929.9Q1735.5 2929.9 1735.5 2914.8L1735.5 2795.5Q1735.5 2780.4 1750.6 2780.4Z"/>
<path class="f" d="M1721.5 2848.2L1771.8 2851.2L1771.8 2861.5L1738.5 2861.5L1721.5 2866.3Z"/>
<path class="f" d="M1733.7 3537L1785.7 3537L1785.7 3557Q1772.4 3593.3 1785.7 3629.7L1785.7 3649L1733.7 3649Z"/>
<ellipse class="f" cx="1847.5" cy="3593.3" rx="58.7" ry="39.3"/>
<polyline class="l" points="1098.7,3360.3 1192.5,3360.3 1394.7,3526.8"/>
<path class="f" d="M1162.8 3391.2C1178.1 3390.1 1197.7 3396.7 1215.1 3411.9L1350.2 3544.8C1367.6 3562.3 1378.5 3579.7 1374.2 3599.3C1369.8 3621.1 1350.2 3634.2 1326.2 3638.5C1308.8 3641.8 1289.2 3644 1277.2 3641.4L1203.1 3641.4C1193.3 3645.1 1182.4 3650.5 1167.2 3650.5C1141 3650.5 1119.2 3632 1117.5 3608C1116.6 3590.6 1118.8 3573.2 1121 3560.1L1121 3487.1C1112.7 3479.5 1108.3 3466.4 1110.5 3451.1C1113.8 3420.6 1136.7 3393.4 1162.8 3391.2Z"/>
<path class="f" d="M1175.9 3433.3C1189 3432.6 1197.7 3439.2 1206.4 3447.9L1321.9 3562.3C1335 3575.3 1343.7 3586.2 1335 3599.3C1326.2 3610.2 1308.8 3612.4 1293.6 3612.8L1189 3615.7C1167.2 3616.3 1155.2 3601.5 1153.7 3584.1L1149.3 3479.5C1148.6 3453.3 1158.4 3434.8 1175.9 3433.3Z"/>
<rect class="f" x="1237.3" y="3643.6" width="17.4" height="32"/>
<polyline class="l" points="1410.4,3526.8 1520.6,3423.8"/>
<polyline class="l" points="1563,3560 1535.7,3426.9"/>
<polyline class="l" points="1563,3560 1691.9,3426.9"/>
<polyline class="l" points="1563,3560 1423.7,3537"/>
<polyline class="l" points="1563,3560 1426.8,3688.4"/>
<polyline class="l" points="1563,3560 1691.9,3688.4"/>
<circle class="f" cx="1563" cy="3560" r="24.2"/>
<rect class="f" x="2062.1" y="2860.2" width="118.9" height="304.1"/>
<path class="f" d="M2111.9 2898.2L2156.5 2898.2L2156.5 3020.7L2111.9 3020.7Z"/>
<path class="l" d="M2156.5 2898.2Q2181.1 2959.2 2156.5 3020.7"/>
<path class="f" d="M2111.9 2901.2Q2102 2917 2084.4 2919.9L2084.4 2999Q2102 3002 2111.9 3017.8Z"/>
<rect class="f" x="2074.4" y="2940.4" width="10" height="38.1"/>
<circle class="f" cx="2120.7" cy="3091.6" r="34"/>
<circle class="f" cx="2120.7" cy="3091.6" r="16.4"/>
<polyline class="l" points="2120.7,3091.6 2120.7,3075.2"/>
<polyline class="l" points="2120.7,3091.6 2134.9,3099.8"/>
<polyline class="l" points="2120.7,3091.6 2106.5,3099.8"/>
<rect class="f" x="2301.2" y="2840.8" width="328.1" height="273.1" rx="38.7"/>
<rect class="f" x="2630.5" y="2837.9" width="16.4" height="276"/>
<polyline class="l" points="2541.4,2865.4 2598.9,2865.4 2598.9,2963.9 2541.4,2963.9"/>
<polyline class="l" points="2541.4,2988.5 2598.9,2988.5 2598.9,3088.1 2519.8,3088.1 2519.8,3043"/>
<polyline class="l" points="2541.4,2840.8 2541.4,3019.5 2448.9,3020.7 2448.9,3114.5 2541.4,3019.5"/>
<rect class="f" x="2301.2" y="3287.7" width="328.1" height="273.1" rx="38.7"/>
<rect class="f" x="2630.5" y="3284.7" width="16.4" height="276"/>
<polyline class="l" points="2541.4,3312.3 2598.9,3312.3 2598.9,3410.7 2541.4,3410.7"/>
<polyline class="l" points="2541.4,3435.3 2598.9,3435.3 2598.9,3534.9 2519.8,3534.9 2519.8,3489.8"/>
<polyline class="l" points="2541.4,3287.7 2541.4,3466.4 2448.9,3467.6 2448.9,3561.3 2541.4,3466.4"/>
<rect class="f" x="2559" y="3141.4" width="87.9" height="124.2"/>
<circle class="f" cx="2603" cy="3204.1" r="36.9"/>
<circle class="f" cx="2603" cy="3204.1" r="17.6"/>
<polyline class="l" points="2603,3204.1 2603,3186.5"/>
<polyline class="l" points="2603,3204.1 2618.2,3212.9"/>
<polyline class="l" points="2603,3204.1 2587.7,3212.9"/>
</g>
<g id="wall">
<rect class="w" x="307" y="63" width="2381" height="39"/>
<rect class="w" x="307" y="63" width="40" height="861"/>
<rect class="w" x="307" y="886" width="306" height="38"/>
<rect class="w" x="600" y="886" width="275" height="31"/>
<rect class="w" x="1049" y="886" width="274" height="29"/>
<rect class="w" x="1154.5" y="102" width="29.5" height="214"/>
<rect class="w" x="1154.5" y="548.5" width="29.5" height="81.5"/>
<rect class="w" x="1154.5" y="801" width="29.5" height="85"/>
<rect class="w" x="1154.5" y="572" width="325.5" height="31"/>
<rect class="w" x="1165" y="316" width="3" height="232.5"/>
<rect class="w" x="1605" y="572.7" width="56.5" height="30.3"/>
<rect class="w" x="1634" y="572.7" width="28" height="193.3"/>
<rect class="w" x="1293.5" y="600" width="30.2" height="315"/>
<rect class="w" x="1293.5" y="764" width="566.5" height="30"/>
<rect class="w" x="1885" y="102" width="33" height="722"/>
<rect class="w" x="1713" y="399" width="177" height="31.4"/>
<polygon class="w" points="1713,399 1700.8,427.4 1723.8,446.8 1740.2,409.2"/>
<polygon class="w" points="1646.4,551.5 1671.8,561.8 1661.5,590.8 1634.3,578.7"/>
<polygon class="w" points="1849,794 1849,764 1885,764 1918,764 1918,823.8 2029,932.3 2029,975"/>
<rect class="w" x="2029" y="909.5" width="30" height="245.5"/>
<rect class="w" x="2029" y="102" width="30" height="43.5"/>
<rect class="w" x="2029" y="300.7" width="30" height="58.6"/>
<rect class="w" x="1917" y="328.3" width="142" height="31"/>
<rect class="w" x="1917" y="694" width="142" height="29"/>
<rect class="w" x="2029" y="694" width="30" height="43"/>
<rect class="w" x="2651" y="63" width="38" height="1092"/>
<rect class="w" x="2029" y="1125" width="61" height="30.6"/>
<rect class="w" x="2257" y="1125" width="432" height="30.6"/>
<rect class="w" x="2271.8" y="1125" width="28.2" height="57"/>
<polygon class="w" points="575.2,923.5 613.3,923.5 613.3,1074.8 493.5,1197.7 493.5,1203.7 455.9,1203.7 455.9,1179.5 575.2,1059.7"/>
<polygon class="w" points="455.7,1585.8 492,1585.8 492,1601 611.9,1716 611.9,1788.6 575.5,1788.6 575.5,1734.1 455.7,1613.1"/>
<rect class="w" x="575" y="2142" width="38.3" height="84.6"/>
<rect class="w" x="2270.7" y="1355" width="29.3" height="321"/>
<rect class="w" x="2278" y="1342" width="22" height="14"/>
<rect class="w" x="2509" y="1366.6" width="143" height="31.1"/>
<rect class="w" x="2651" y="1100" width="38" height="614"/>
<rect class="w" x="2254.3" y="1675.4" width="434.7" height="31.1"/>
<rect class="w" x="2362.7" y="1675.4" width="38.1" height="117.2"/>
<rect class="w" x="2400" y="1675.4" width="289" height="38.6"/>
<rect class="w" x="2029" y="1150" width="30" height="383.6"/>
<rect class="w" x="1885" y="1498.4" width="174" height="29.4"/>
<rect class="w" x="1885" y="1498.4" width="29.5" height="208.1"/>
<rect class="w" x="1885" y="1675.4" width="190.6" height="31.1"/>
<rect class="w" x="2029" y="1653" width="30" height="53.5"/>
<rect class="w" x="2362.7" y="2152.4" width="38.1" height="124.6"/>
<rect class="w" x="2257.2" y="2248" width="142.8" height="29.2"/>
<rect class="w" x="2362.7" y="2239.3" width="326.3" height="38"/>
<rect class="w" x="2267.2" y="2277" width="31.1" height="158.5"/>
<rect class="w" x="2267.2" y="2604" width="31.1" height="56"/>
<rect class="w" x="2254.3" y="2634.8" width="434.7" height="31"/>
<rect class="w" x="2651" y="2239.3" width="38" height="1487.7"/>
<rect class="w" x="1886.3" y="2248" width="196.9" height="29.3"/>
<rect class="w" x="1886.3" y="2248" width="31.1" height="515"/>
<rect class="w" x="1917" y="2425.6" width="139.3" height="30.4"/>
<rect class="w" x="2025.8" y="2403.3" width="30.5" height="73.3"/>
<rect class="w" x="2025.8" y="2609" width="30.5" height="191"/>
<rect class="w" x="2025.8" y="2634.8" width="53.9" height="30.2"/>
<rect class="w" x="1071.4" y="2734.4" width="984.6" height="29"/>
<rect class="w" x="575" y="2663.2" width="38.3" height="240.8"/>
<rect class="w" x="575" y="2734.6" width="308.9" height="30.3"/>
<rect class="w" x="307" y="2867.8" width="306.3" height="38.2"/>
<rect class="w" x="307" y="2867.8" width="39.2" height="859.2"/>
<rect class="w" x="307" y="3689" width="2382" height="38"/>
<rect class="w" x="1162.2" y="2763" width="30.3" height="26"/>
<rect class="w" x="1162.2" y="2956" width="30.3" height="101"/>
<rect class="w" x="1162.2" y="2987.4" width="173.8" height="29.1"/>
<rect class="w" x="1495.2" y="2987.4" width="226.3" height="29.1"/>
<rect class="w" x="1289.3" y="2763" width="29.7" height="227"/>
<rect class="w" x="1691.9" y="2763" width="29.6" height="937"/>
<rect class="w" x="1721.5" y="3113.3" width="155" height="28.5"/>
<rect class="w" x="1721.5" y="3450" width="155" height="28.3"/>
<rect class="w" x="1162.2" y="3290.7" width="30.3" height="69.3"/>
<rect class="w" x="1068.4" y="3328.8" width="124.1" height="31.5"/>
<rect class="w" x="1068.4" y="3328.8" width="30.3" height="371.2"/>
<rect class="w" x="1394.7" y="3526.8" width="29" height="173.2"/>
<rect class="w" x="1520.6" y="3398.4" width="171.4" height="28.5"/>
<rect class="w" x="2025.8" y="2760" width="30.5" height="412"/>
<rect class="w" x="2025.8" y="3407.6" width="30.5" height="292.4"/>
<rect class="w" x="2056" y="3438.8" width="151.4" height="30.5"/>
<rect class="w" x="2177" y="3438.8" width="30.4" height="52.8"/>
<rect class="w" x="2177" y="3651.5" width="30.4" height="48.5"/>
<rect class="w" x="1996.5" y="3116" width="29.5" height="26.6"/>
<rect class="w" x="2002.3" y="3450.6" width="23.7" height="29.3"/>
<polyline class="l" points="1178.6,3057 1178.6,3290.7"/>
<polyline class="l" points="2041.6,3172 2041.6,3408"/>
</g>
<g id="win">
<rect class="f" x="309.5" y="183" width="35.5" height="178"/>
<polyline class="l" points="327.2,183 327.2,361"/>
<rect class="f" x="309.5" y="632" width="35.5" height="169"/>
<polyline class="l" points="327.2,632 327.2,801"/>
<rect class="f" x="386" y="888" width="141" height="34"/>
<polyline class="l" points="386,905 527,905"/>
<rect class="f" x="2652.8" y="245.1" width="34.6" height="295.9"/>
<polyline class="l" points="2670.1,245.1 2670.1,541"/>
<rect class="f" x="2652.8" y="693.9" width="34.6" height="291.8"/>
<polyline class="l" points="2670.1,693.9 2670.1,985.7"/>
<rect class="f" x="457.5" y="1204.5" width="33.9" height="381.4"/>
<polyline class="l" points="474.5,1204.5 474.5,1585.8"/>
<rect class="f" x="577" y="2226.6" width="34.5" height="436.6"/>
<polyline class="l" points="594.2,2226.6 594.2,2663.2"/>
<rect class="f" x="391.8" y="2870" width="147.1" height="33"/>
<polyline class="l" points="391.8,2886.5 538.9,2886.5"/>
<rect class="f" x="309.5" y="3157.8" width="35.5" height="292.4"/>
<polyline class="l" points="327.2,3157.8 327.2,3450.2"/>
<rect class="f" x="2652.8" y="2826.2" width="34.6" height="294.2"/>
<polyline class="l" points="2670.1,2826.2 2670.1,3120.3"/>
<rect class="f" x="2652.8" y="3273.6" width="34.6" height="297.1"/>
<polyline class="l" points="2670.1,3273.6 2670.1,3570.7"/>
</g>
<g id="door">
<rect class="dw" x="1039.8" y="726.3" width="9.3" height="175.4"/>
<polyline class="l1" points="877.1,901.7 1039.8,901.7"/>
<path class="d" d="M1040.7 726.3A173.7 173.7 0 0 0 877.1 902.5"/>
<path class="d" d="M1078.8 633.9A89.8 83.1 0 0 0 1169.5 716.1A89.8 83.1 0 0 0 1078.8 798.3"/>
<rect class="dw" x="1078" y="627.1" width="93.2" height="6.8"/>
<rect class="dw" x="1078" y="798.3" width="93.2" height="6.8"/>
<path class="d" d="M1705.7 444.4L1594.9 394.1A121.7 121.7 0 0 0 1652.4 554.5"/>
<polyline class="l" points="1707.5,439.5 1597.3,389.9"/>
<rect class="dw" x="1479.9" y="581.8" width="102.9" height="9.1"/>
<rect class="w" x="2043.4" y="144" width="82" height="6.3"/>
<rect class="w" x="2043.4" y="293.5" width="82" height="6.3"/>
<path class="d" d="M2123.6 150.2A77.9 71.5 0 0 1 2045.7 221.6A77.9 71.5 0 0 1 2123.6 293.7"/>
<polyline class="lt" points="2036.3,736.7 2073.8,771.8 2036.3,809.9"/>
<polyline class="lt" points="2036.3,839.2 2073.8,874.4 2036.3,909.5"/>
<rect class="dw" x="2090.2" y="968.1" width="11.7" height="174.6"/>
<path class="d" d="M2099 968.1A164.1 164.1 0 0 1 2258.4 1129.3"/>
<rect class="dw" x="2110.8" y="1185" width="174" height="8.8"/>
<path class="d" d="M2111.9 1193.8A174.6 164.1 0 0 0 2286.5 1356.1"/>
<rect class="dw" x="2090.2" y="968.1" width="11.7" height="174.6"/>
<polyline class="l" points="2043.4,1536.5 2119.5,1619.7 2107.8,1629.1"/>
<polyline class="l" points="2038.7,1540.6 2112.5,1623.3"/>
<path class="d" d="M2109 1629.1Q2084.4 1649.6 2043.4 1650.8"/>
<polyline class="l" points="595.2,1789.6 595.2,2141.9"/>
<rect class="dw" x="413.6" y="1790.8" width="178" height="9.1"/>
<rect class="dw" x="413.6" y="2131" width="178" height="9.7"/>
<path class="d" d="M414.8 1799.9A176.8 166.5 0 0 0 591.5 1964.5A176.8 166.5 0 0 0 414.8 2131"/>
<polyline class="lt" points="2036.3,2532.8 2073.8,2569.2 2036.3,2607.2"/>
<rect class="dw" x="2282.4" y="2595.5" width="171.1" height="8.8"/>
<path class="d" d="M2453.5 2598.5A171.1 159.4 0 0 0 2282.4 2439.1"/>
<polyline class="l1" points="2079.7,2651.2 2254.3,2651.2"/>
<polyline class="l1" points="2281.3,2437.3 2281.3,2604.3"/>
<polyline class="l" points="2374.4,1792.6 2374.4,2152.4"/>
<rect class="dw" x="2199.8" y="1793.8" width="180.5" height="8.8"/>
<rect class="dw" x="2199.8" y="2140.6" width="180.5" height="9.4"/>
<path class="d" d="M2201.6 1802.5A172.9 168.2 0 0 0 2374.4 1970.7A172.9 169.9 0 0 0 2201.6 2140.6"/>
<polyline class="lt" points="2373.3,1970.7 2382.1,1970.7"/>
<polyline class="l1" points="884,2749 1062,2749"/>
<rect class="dw" x="1061.3" y="2747.9" width="9.1" height="190.7"/>
<path class="d" d="M885.7 2752.8A179.8 185.8 0 0 0 1062.5 2938.6"/>
<path class="d" d="M1092.6 2793.7A85.4 78.7 0 0 0 1176.8 2872.4A85.4 78.7 0 0 0 1092.6 2949.9"/>
<rect class="dw" x="1092" y="2787.7" width="87.2" height="6.1"/>
<rect class="dw" x="1092" y="2949.9" width="87.2" height="6.1"/>
<polyline class="l" points="1178.6,2789 1178.6,2956"/>
<rect class="dw" x="1339" y="2843.3" width="10.9" height="156.2"/>
<path class="d" d="M1346.2 2843.3A148.9 151.3 0 0 1 1495.2 2990.4"/>
<rect class="dw" x="1987.7" y="3007.8" width="8.8" height="126"/>
<path class="d" d="M1991.8 3009A115.4 111.3 0 0 0 1876.4 3118"/>
<rect class="dw" x="1996.5" y="3468.1" width="8.8" height="126"/>
<path class="d" d="M2001.2 3594.1A124.8 126 0 0 1 1876.4 3468.1"/>
<path class="d" d="M1410.4 3526.8L1302.7 3407.5A160.4 160.4 0 0 1 1519.4 3419.6"/>
<polyline class="l" points="1415.3,3523.7 1307.5,3404.5"/>
<rect class="dw" x="2079.7" y="2651.2" width="10.5" height="177"/>
<path class="d" d="M2090.2 2828.1A167 168.2 0 0 0 2254.3 2660"/>
<rect class="w" x="2191.6" y="3486.9" width="84.4" height="6.4"/>
<rect class="w" x="2191.6" y="3645.1" width="84.4" height="6.4"/>
<path class="d" d="M2274.2 3493.3A80.9 76.2 0 0 1 2193.4 3569.5A80.9 76.2 0 0 1 2274.2 3645.1"/>
</g>
<g id="text">
<text x="737.3" y="413.8" font-size="63" text-anchor="middle" textLength="202.2" lengthAdjust="spacingAndGlyphs">Master</text>
<text x="737.3" y="486.4" font-size="63" text-anchor="middle" textLength="369.2" lengthAdjust="spacingAndGlyphs">Bedroom #1</text>
<text x="1387.9" y="356.3" font-size="63" text-anchor="middle" textLength="201" lengthAdjust="spacingAndGlyphs">Master</text>
<text x="1389.1" y="427.7" font-size="63" text-anchor="middle" textLength="387.4" lengthAdjust="spacingAndGlyphs">Bathroom #1</text>
<text x="2311.2" y="650.9" font-size="63" text-anchor="middle" textLength="389.7" lengthAdjust="spacingAndGlyphs">Bedroom #4</text>
<text x="852.4" y="1053.9" font-size="63" text-anchor="middle" textLength="401.3" lengthAdjust="spacingAndGlyphs">Dining Room</text>
<text x="1604" y="1069.3" font-size="63" text-anchor="middle" textLength="230" lengthAdjust="spacingAndGlyphs">Kitchen</text>
<text x="2285.4" y="1306.6" font-size="63" text-anchor="middle" textLength="408.4" lengthAdjust="spacingAndGlyphs">Bathroom #4</text>
<text x="350" y="1978.1" font-size="63" text-anchor="middle" textLength="240.3" lengthAdjust="spacingAndGlyphs">Balcony</text>
<text x="2133.6" y="1985.7" font-size="63" text-anchor="middle" textLength="171.1" lengthAdjust="spacingAndGlyphs">Foyer</text>
<text x="2464.1" y="2551.3" font-size="63" text-anchor="middle" textLength="250.2" lengthAdjust="spacingAndGlyphs">Laundry</text>
<text x="1449.8" y="2467.2" font-size="63" text-anchor="middle" textLength="181.6" lengthAdjust="spacingAndGlyphs">Living</text>
<text x="801.6" y="2419.5" font-size="63" text-anchor="middle" textLength="176.8" lengthAdjust="spacingAndGlyphs">Study</text>
<text x="728.8" y="3070.3" font-size="63" text-anchor="middle" textLength="203.4" lengthAdjust="spacingAndGlyphs">Master</text>
<text x="728.8" y="3142.3" font-size="63" text-anchor="middle" textLength="384.7" lengthAdjust="spacingAndGlyphs">Bedroom #2</text>
<text x="1377.7" y="3158.4" font-size="63" text-anchor="middle" textLength="201" lengthAdjust="spacingAndGlyphs">Master</text>
<text x="1379.5" y="3229.2" font-size="63" text-anchor="middle" textLength="402.5" lengthAdjust="spacingAndGlyphs">Bathroom #2</text>
<text x="2317" y="3246.6" font-size="63" text-anchor="middle" textLength="383.8" lengthAdjust="spacingAndGlyphs">Bedroom #3</text>
<text x="1952.5" y="3316.1" font-size="63" text-anchor="middle" textLength="305.1" lengthAdjust="spacingAndGlyphs">Bathroom</text>
<text x="1953.4" y="3386.4" font-size="63" text-anchor="middle" textLength="76.3" lengthAdjust="spacingAndGlyphs">#3</text>
</g>
</svg>
</body></html>
